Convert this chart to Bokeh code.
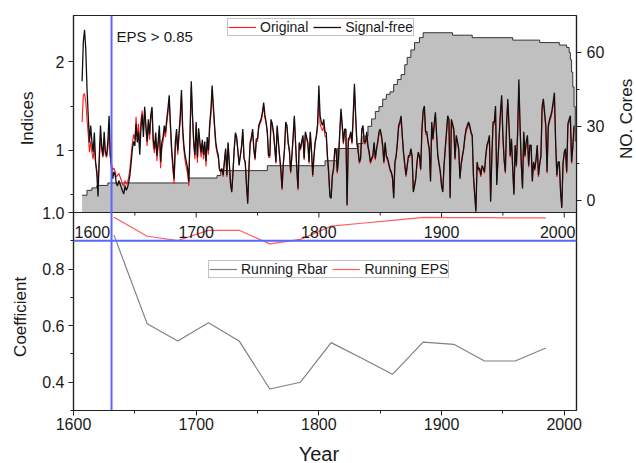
import math
from bokeh.plotting import figure
from bokeh.models import (Range1d, LinearAxis, FixedTicker, PrintfTickFormatter, Span,
                          Label, Legend, LegendItem)
from bokeh.embed import file_html
from bokeh.resources import INLINE

# ---------------- data ----------------
FIRST_YEAR = 1607
SIGNAL_FREE = [
    1.78, 2.22, 2.36,
    2.14, 1.70, 1.39, 1.09, 1.28, 1.10, 0.98, 1.20, 0.87, 0.74,
    0.48, 0.92, 1.28, 1.05, 0.94, 1.21, 0.98, 0.94, 1.10, 1.39,
    0.95, 0.80, 0.68, 0.76, 0.72, 0.62, 0.60, 0.66, 0.62, 0.58,
    0.54, 0.51, 0.60, 0.55, 0.58, 0.64, 0.72, 0.86, 1.02, 1.10,
    1.05, 1.30, 1.09, 1.21, 0.95, 1.26, 1.40, 1.15, 1.49, 1.28,
    1.10, 1.35, 1.18, 1.40, 1.49, 1.12, 1.02, 1.20, 0.94, 1.10,
    1.28, 0.87, 1.09, 1.15, 1.28, 1.20, 1.35, 1.47, 1.62, 1.30,
    1.02, 0.85, 0.68, 1.09, 1.24, 1.00, 1.20, 1.39, 1.68, 1.25,
    1.05, 0.94, 0.87, 0.80, 0.65, 1.20, 1.78, 1.40, 1.10, 0.95,
    1.32, 0.92, 1.25, 1.10, 0.98, 1.12, 0.95, 1.10, 0.88, 1.15,
    1.00, 1.30, 1.45, 1.73, 1.50, 1.28, 1.09, 1.00, 0.95, 0.79,
    0.76, 0.79, 0.72, 0.87, 1.02, 0.72, 1.09, 0.85, 0.63, 0.53,
    0.75, 1.02, 1.20, 1.15, 1.00, 0.83, 0.94, 1.05, 1.24, 0.91,
    0.87, 0.62, 0.40, 0.80, 1.09, 1.15, 1.24, 1.02, 0.91, 1.13,
    1.13, 1.28, 1.32, 1.36, 1.43, 1.54, 1.40, 1.32, 1.21, 0.94,
    0.94, 1.35, 1.30, 1.21, 1.05, 0.87, 1.28, 1.10, 0.94, 0.79,
    0.57, 0.85, 1.02, 1.32, 1.28, 1.09, 1.00, 0.76, 0.94, 1.15,
    1.39, 1.09, 0.80, 0.57, 1.09, 1.02, 1.10, 1.17, 0.91, 1.21,
    1.15, 1.09, 0.87, 1.21, 1.00, 0.72, 0.94, 1.10, 1.17, 1.30,
    1.73, 1.39, 1.32, 1.28, 1.35, 1.21, 1.20, 0.94, 0.76, 0.48,
    0.46, 0.72, 0.80, 1.02, 1.02, 0.76, 0.91, 1.20, 1.47, 1.30,
    1.09, 1.24, 1.24, 0.38, 1.13, 1.15, 1.21, 1.09, 1.40, 1.75,
    1.39, 1.09, 1.00, 0.87, 0.91, 1.24, 1.28, 1.10, 1.09, 1.21,
    1.05, 0.98, 0.87, 0.91, 0.94, 1.09, 0.91, 1.02, 1.10, 1.21,
    1.24, 1.17, 1.06, 0.87, 1.09, 0.94, 0.91, 0.85, 0.79, 0.76,
    0.70, 0.46, 0.87, 0.94, 1.09, 1.28, 1.32, 1.39, 1.17, 0.98,
    0.85, 0.72, 0.83, 0.94, 0.94, 1.02, 0.94, 0.53, 0.60, 0.68,
    0.87, 0.98, 0.94, 0.79, 1.24, 1.45, 1.50, 1.21, 1.21, 1.10,
    1.02, 0.65, 1.32, 1.13, 1.30, 1.43, 1.17, 0.94, 0.85, 0.76,
    0.60, 0.53, 0.83, 1.02, 1.20, 1.39, 1.35, 0.46, 1.35, 1.30,
    1.24, 0.91, 1.17, 1.10, 1.02, 0.68, 0.85, 0.94, 1.02, 1.15,
    1.24, 1.28, 1.32, 1.28, 1.21, 1.17, 0.72, 0.50, 0.31, 0.87,
    0.79, 0.80, 0.72, 0.83, 0.80, 0.76, 0.94, 1.06, 1.10, 1.17,
    0.42, 0.94, 1.32, 1.32, 1.50, 0.61, 0.90, 1.17, 1.43, 1.62,
    1.17, 0.90, 0.76, 1.30, 1.58, 1.28, 0.94, 1.13, 0.80, 0.50,
    1.06, 0.83, 1.20, 1.80, 1.28, 0.85, 0.57, 1.21, 0.94, 1.10,
    1.17, 0.83, 1.06, 1.06, 0.65, 0.87, 0.79, 0.90, 1.06, 0.72,
    0.85, 0.94, 1.50, 1.58, 1.43, 1.28, 0.76, 1.28, 1.35, 1.39,
    1.45, 1.55, 1.65, 1.09, 0.72, 0.87, 0.87, 0.53, 0.35, 0.85,
    0.98, 1.02, 0.76, 1.30, 1.35, 1.39, 0.87, 1.05, 1.28,
]
ORIGINAL = [
    1.32, 1.62, 1.64,
    1.55, 1.35, 1.18, 0.98, 1.10, 0.98, 0.90, 1.05, 0.85, 0.78,
    0.62, 0.88, 1.15, 1.00, 0.92, 1.10, 0.95, 0.92, 1.02, 1.22,
    0.92, 0.85, 0.78, 0.80, 0.76, 0.70, 0.72, 0.74, 0.70, 0.66,
    0.62, 0.60, 0.66, 0.62, 0.64, 0.70, 0.80, 0.95, 1.08, 1.18,
    1.12, 1.38, 1.15, 1.30, 1.02, 1.35, 1.45, 1.22, 1.46, 1.25,
    1.05, 1.30, 1.12, 1.35, 1.45, 1.05, 0.97, 1.15, 0.88, 1.05,
    1.22, 0.80, 1.02, 1.10, 1.22, 1.15, 1.30, 1.42, 1.58, 1.25,
    0.97, 0.78, 0.62, 1.02, 1.18, 0.95, 1.15, 1.33, 1.62, 1.20,
    1.00, 0.88, 0.80, 0.74, 0.60, 1.15, 1.72, 1.35, 1.05, 0.90,
    1.27, 0.86, 1.20, 1.05, 0.92, 1.07, 0.90, 1.05, 0.82, 1.10,
    0.95, 1.25, 1.40, 1.68, 1.46, 1.24, 1.05, 0.97, 0.92, 0.77,
    0.78, 0.80, 0.70, 0.88, 1.00, 0.70, 1.07, 0.86, 0.60, 0.55,
    0.77, 1.00, 1.18, 1.13, 0.98, 0.85, 0.95, 1.03, 1.20, 0.92,
    0.85, 0.60, 0.43, 0.78, 1.07, 1.12, 1.22, 1.00, 0.89, 1.10,
    1.10, 1.25, 1.30, 1.33, 1.40, 1.50, 1.37, 1.30, 1.18, 0.92,
    0.92, 1.32, 1.27, 1.18, 1.03, 0.85, 1.25, 1.08, 0.92, 0.77,
    0.55, 0.83, 1.00, 1.29, 1.25, 1.07, 0.98, 0.74, 0.92, 1.13,
    1.36, 1.07, 0.78, 0.55, 1.07, 1.00, 1.08, 1.15, 0.89, 1.19,
    1.13, 1.07, 0.85, 1.19, 0.98, 0.70, 0.92, 1.08, 1.15, 1.27,
    1.62, 1.30, 1.25, 1.22, 1.28, 1.16, 1.15, 0.90, 0.72, 0.50,
    0.48, 0.70, 0.78, 1.00, 1.00, 0.74, 0.89, 1.17, 1.42, 1.27,
    1.07, 1.21, 1.21, 0.40, 1.10, 1.12, 1.18, 1.07, 1.36, 1.70,
    1.35, 1.07, 0.98, 0.85, 0.89, 1.21, 1.25, 1.08, 1.07, 1.18,
    1.03, 0.96, 0.85, 0.89, 0.92, 1.07, 0.89, 1.00, 1.08, 1.18,
    1.21, 1.15, 1.04, 0.85, 1.07, 0.92, 0.89, 0.83, 0.77, 0.74,
    0.68, 0.48, 0.85, 0.92, 1.07, 1.25, 1.29, 1.35, 1.15, 0.96,
    0.83, 0.70, 0.81, 0.92, 0.92, 1.00, 0.92, 0.55, 0.62, 0.70,
    0.85, 0.96, 0.92, 0.77, 1.21, 1.42, 1.47, 1.18, 1.18, 1.08,
    1.00, 0.67, 1.29, 1.11, 1.27, 1.40, 1.15, 0.92, 0.83, 0.74,
    0.62, 0.55, 0.81, 1.00, 1.18, 1.36, 1.32, 0.48, 1.32, 1.27,
    1.21, 0.89, 1.15, 1.08, 1.00, 0.70, 0.83, 0.92, 1.00, 1.13,
    1.21, 1.25, 1.29, 1.25, 1.19, 1.15, 0.70, 0.52, 0.33, 0.85,
    0.77, 0.78, 0.70, 0.81, 0.78, 0.74, 0.92, 1.04, 1.08, 1.15,
    0.44, 0.92, 1.29, 1.29, 1.47, 0.63, 0.88, 1.15, 1.40, 1.58,
    1.15, 0.88, 0.74, 1.27, 1.54, 1.25, 0.92, 1.11, 0.78, 0.52,
    1.04, 0.81, 1.18, 1.74, 1.25, 0.83, 0.59, 1.18, 0.92, 1.08,
    1.15, 0.81, 1.04, 1.04, 0.67, 0.85, 0.77, 0.88, 1.04, 0.70,
    0.83, 0.92, 1.46, 1.54, 1.40, 1.25, 0.74, 1.25, 1.32, 1.36,
    1.42, 1.51, 1.60, 1.07, 0.70, 0.85, 0.85, 0.55, 0.37, 0.83,
    0.96, 1.00, 0.74, 1.27, 1.32, 1.36, 0.85, 1.03, 1.25,
]
YEARS = list(range(FIRST_YEAR, FIRST_YEAR + len(SIGNAL_FREE)))
assert len(ORIGINAL) == len(SIGNAL_FREE)

CORE_YEARS = [1607, 1611, 1615, 1619, 1628, 1694, 1717, 1720, 1758, 1805, 1815, 1832,
              1836, 1840, 1843, 1846, 1849, 1852, 1855, 1858, 1861, 1864, 1867, 1870,
              1872, 1875, 1878, 1882, 1885, 1909, 1925, 1958, 1980, 1996, 2002, 2004,
              2005, 2006, 2007, 2008, 2009, 2010]
CORE_COUNTS = [2, 4, 5, 6, 7, 9, 10, 12, 14, 16, 21, 23,
               26, 30, 33, 36, 38, 41, 43, 44, 47, 49, 51, 55,
               58, 61, 64, 66, 68, 67, 66, 65, 64, 63, 62, 60,
               57, 52, 46, 38, 24, 24]

RUN_YEARS = [1633, 1660, 1685, 1710, 1735, 1760, 1785, 1810, 1835, 1860, 1885, 1910, 1935, 1960, 1985]
RBAR = [0.92, 0.607, 0.546, 0.61, 0.546, 0.376, 0.40, 0.54, 0.485, 0.428, 0.542, 0.534, 0.475, 0.475, 0.521]
EPS = [0.983, 0.916, 0.901, 0.937, 0.937, 0.889, 0.905, 0.952, 0.962, 0.972, 0.983, 0.982, 0.982, 0.981, 0.981]

EPS_START_YEAR = 1631
EPS_LINE_LEVEL = 0.9
YEAR_TICKS = [1600, 1700, 1800, 1900, 2000]
YEAR_MINOR = [1650, 1750, 1850, 1950]
IDX_TICKS = [1, 2]
IDX_MINOR = [0.5, 1.5]
CORE_TICKS = [0, 30, 60]
CORE_MINOR = [15, 45]
COEF_TICKS = [0.4, 0.6, 0.8, 1.0]
COEF_MINOR = [0.3, 0.5, 0.7, 0.9]

# ---------------- layout ----------------
FONT = "Liberation Sans"
TXT = "#1a1a1a"
W, H = 636, 463
FRAME_W, TOP_H, BOT_H = 503, 197, 198
FRAME_H = TOP_H + BOT_H
LEFT_B, TOP_B = 73, 15
RIGHT_B = W - LEFT_B - FRAME_W
BOT_B = H - TOP_B - FRAME_H

IDX_LO, IDX_HI = 0.3, 2.52
CORES_LO, CORES_HI = -5, 75
COEF_LO, COEF_HI = 0.3, 1.0
X_LO, X_HI = 1600, 2010

idx_range = Range1d(IDX_HI - (IDX_HI - IDX_LO) * FRAME_H / TOP_H, IDX_HI)
cores_range = Range1d(CORES_HI - (CORES_HI - CORES_LO) * FRAME_H / TOP_H, CORES_HI)
coef_range = Range1d(COEF_LO, COEF_LO + (COEF_HI - COEF_LO) * FRAME_H / BOT_H)


def idx_to_coef(v):
    f = (v - idx_range.start) / (idx_range.end - idx_range.start)
    return coef_range.start + f * (coef_range.end - coef_range.start)


p = figure(width=W, height=H, x_range=Range1d(X_LO, X_HI), y_range=coef_range,
           output_backend="svg", toolbar_location=None,
           min_border_left=LEFT_B, min_border_right=RIGHT_B,
           min_border_top=TOP_B, min_border_bottom=BOT_B)
p.extra_y_ranges = {"idx": idx_range, "cores": cores_range}
p.grid.visible = False
p.outline_line_color = "#222222"
p.outline_line_width = 1.2
p.background_fill_color = "white"
p.border_fill_color = "white"


def style_axis(ax):
    ax.major_label_text_font = FONT
    ax.major_label_text_font_size = "16px"
    ax.major_label_text_color = TXT
    ax.axis_line_color = "#222222"
    ax.axis_line_width = 1.2
    ax.major_tick_line_color = "#222222"
    ax.minor_tick_line_color = "#222222"
    ax.major_tick_in = 0
    ax.major_tick_out = 5
    ax.minor_tick_in = 0
    ax.minor_tick_out = 3


# bottom x axis
xax = p.xaxis[0]
xax.ticker = FixedTicker(ticks=YEAR_TICKS, minor_ticks=YEAR_MINOR)
style_axis(xax)
xax.major_label_standoff = 2

# left axis: coefficient (bottom panel) + indices (top panel)
lax = p.yaxis[0]
lax.ticker = FixedTicker(ticks=COEF_TICKS + [idx_to_coef(v) for v in IDX_TICKS],
                         minor_ticks=COEF_MINOR + [idx_to_coef(v) for v in IDX_MINOR])
lax.formatter = PrintfTickFormatter(format="%.1f")
lax.major_label_overrides = {idx_to_coef(v): str(v) for v in IDX_TICKS}
style_axis(lax)
lax.major_label_standoff = 4

# right axis: number of cores
rax = LinearAxis(y_range_name="cores", ticker=FixedTicker(ticks=CORE_TICKS, minor_ticks=CORE_MINOR))
style_axis(rax)
rax.major_label_standoff = 5
p.add_layout(rax, "right")

# ---------------- top panel ----------------
p.varea_step(x=CORE_YEARS, y1=CORES_LO, y2=CORE_COUNTS, step_mode="after",
             fill_color="#c0c0c0", y_range_name="cores")
p.step(x=CORE_YEARS, y=CORE_COUNTS, mode="after", line_color="#333333", line_width=1,
       y_range_name="cores")
r_orig = p.line(YEARS, ORIGINAL, line_color="#ff1a1a", line_width=1.1, y_range_name="idx")
r_sf = p.line(YEARS, SIGNAL_FREE, line_color="#111111", line_width=1.3, y_range_name="idx")

# middle axis (x axis of the top panel)
p.add_layout(Span(location=COEF_HI, dimension="width", line_color="#222222", line_width=1.2))
p.ray(x=YEAR_TICKS, y=COEF_HI, length=5, length_units="screen", angle=-math.pi / 2,
      line_color="#222222", line_width=1)
p.ray(x=YEAR_MINOR, y=COEF_HI, length=3, length_units="screen", angle=-math.pi / 2,
      line_color="#222222", line_width=1)
for yr in YEAR_TICKS:
    # keep the edge labels inside the plotting frame
    align = "left" if yr == X_LO else ("right" if yr + 20 > X_HI else "center")
    xo = 1 if align == "left" else (-1 if align == "right" else 0)
    p.add_layout(Label(x=yr if align != "right" else X_HI, y=COEF_HI, x_offset=xo, y_offset=-19,
                       text=str(yr), text_align=align, text_baseline="middle",
                       text_font=FONT, text_font_size="16px", text_color=TXT))

# ---------------- bottom panel ----------------
r_rbar = p.line(RUN_YEARS, RBAR, line_color="#808080", line_width=1.2)
r_eps = p.line(RUN_YEARS, EPS, line_color="#ff5c5c", line_width=1.2)

BLUE = "#5a66ff"
p.add_layout(Span(location=EPS_START_YEAR, dimension="height", line_color=BLUE, line_width=2))
p.add_layout(Span(location=EPS_LINE_LEVEL, dimension="width", line_color=BLUE, line_width=2))

# ---------------- legends ----------------
def make_legend(items, loc):
    lg = Legend(items=items, location=loc, orientation="horizontal")
    lg.label_text_font = FONT
    lg.label_text_font_size = "14px"
    lg.label_text_color = TXT
    lg.glyph_width = 28
    lg.glyph_height = 10
    lg.label_height = 10
    lg.label_standoff = 4
    lg.spacing = 5
    lg.padding = 0
    lg.margin = 0
    lg.border_line_color = "#888888"
    lg.border_line_width = 1
    lg.background_fill_color = "white"
    lg.background_fill_alpha = 1
    return lg


p.add_layout(make_legend([LegendItem(label="Original", renderers=[r_orig]),
                          LegendItem(label="Signal-free", renderers=[r_sf])], (154, 374)))
p.add_layout(make_legend([LegendItem(label="Running Rbar", renderers=[r_rbar]),
                          LegendItem(label="Running EPS", renderers=[r_eps])], (135, 132)))

# ---------------- titles / labels ----------------
p.add_layout(Label(x=EPS_START_YEAR, y=IDX_HI, y_range_name="idx", x_offset=5, y_offset=-21,
                   text="EPS > 0.85", text_font=FONT, text_font_size="15px", text_color=TXT,
                   text_align="left", text_baseline="middle"))
p.add_layout(Label(x=X_LO, y=1.36, y_range_name="idx", x_offset=-46, text="Indices",
                   angle=math.pi / 2, text_font=FONT, text_font_size="17px", text_color=TXT,
                   text_align="center", text_baseline="middle"), "left")
p.add_layout(Label(x=X_LO, y=0.631, x_offset=-53, text="Coefficient",
                   angle=math.pi / 2, text_font=FONT, text_font_size="17px", text_color=TXT,
                   text_align="center", text_baseline="middle"), "left")
p.add_layout(Label(x=X_HI, y=33, y_range_name="cores", x_offset=50, text="NO. Cores",
                   angle=math.pi / 2, text_font=FONT, text_font_size="17px", text_color=TXT,
                   text_align="center", text_baseline="middle"), "right")
p.add_layout(Label(x=1800, y=COEF_LO, y_offset=-32, text="Year",
                   text_font=FONT, text_font_size="20px", text_color=TXT,
                   text_align="center", text_baseline="top"), "below")

open("out.html", "w").write(file_html(p, INLINE, title="Indices and coefficients"))
